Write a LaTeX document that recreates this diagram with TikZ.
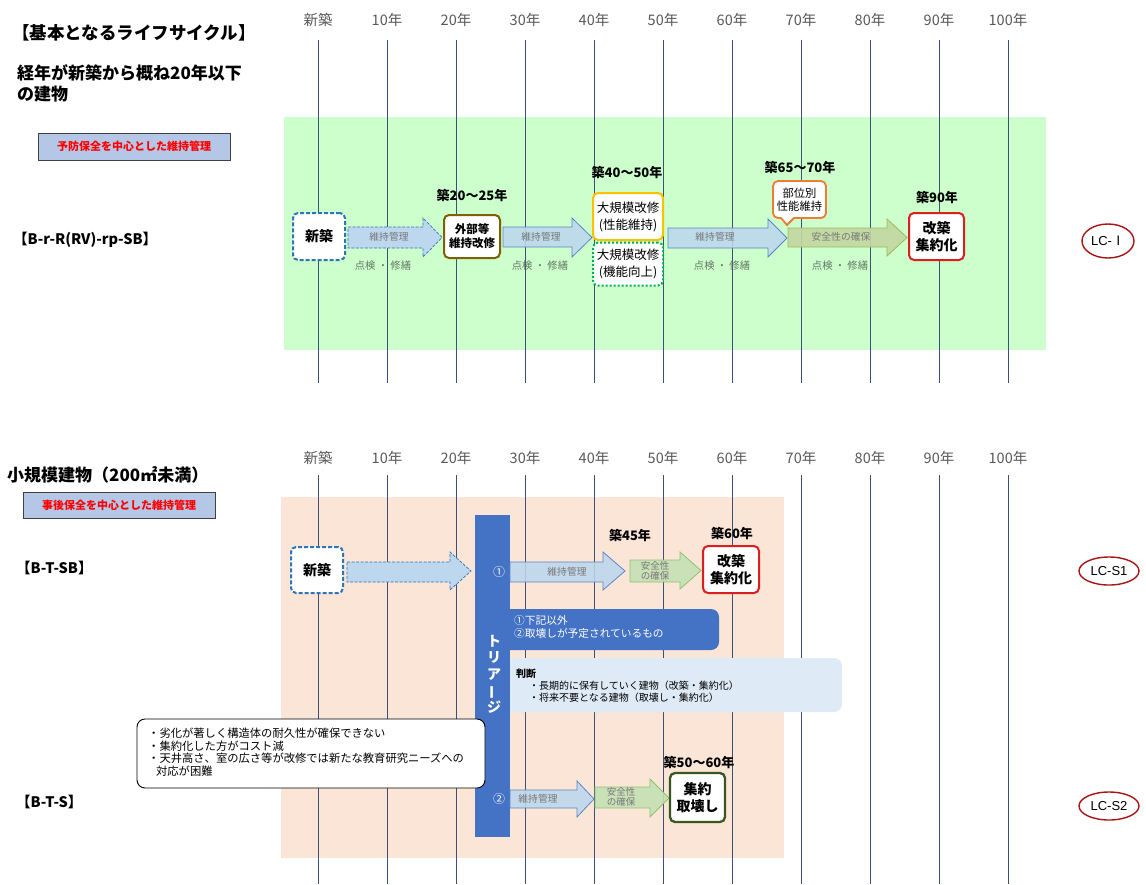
\documentclass[tikz,border=0pt]{standalone}
\usepackage{fontspec}
\usepackage{graphicx}
\setmainfont{Noto Sans CJK JP}
\newfontfamily\jpf{Noto Sans CJK JP}
\newfontfamily\arialf{Liberation Sans}
\usetikzlibrary{shapes.geometric}
\definecolor{vline}{RGB}{60,80,120}
\definecolor{bggreen}{RGB}{204,255,204}
\definecolor{bgpeach}{RGB}{251,229,214}
\definecolor{boxblue}{RGB}{180,199,231}
\definecolor{tri}{RGB}{68,114,196}
\definecolor{arrowfill}{RGB}{189,215,238}
\definecolor{arrowline}{RGB}{91,135,200}
\definecolor{olivefill}{RGB}{196,214,160}
\definecolor{oliveline}{RGB}{155,187,89}
\definecolor{gfill}{RGB}{197,224,180}
\definecolor{gline}{RGB}{140,195,110}
\definecolor{lightbox}{RGB}{222,235,247}
\definecolor{newblue}{RGB}{46,117,182}
\definecolor{brownb}{RGB}{127,96,0}
\definecolor{goldb}{RGB}{255,192,0}
\definecolor{dotgreen}{RGB}{0,176,80}
\definecolor{orng}{RGB}{237,125,49}
\definecolor{redb}{RGB}{220,30,30}
\definecolor{dgreen}{RGB}{56,87,35}
\definecolor{lcred}{RGB}{170,20,20}
\definecolor{yeargray}{RGB}{89,89,89}
\definecolor{tkgray}{RGB}{100,120,100}
\definecolor{agray}{RGB}{120,120,120}
\newcommand{\barrow}[8]{\draw[#1] (#2,#5) -- (#3,#5) -- (#3,#7) -- (#4,{(#7+#8)/2}) -- (#3,#8) -- (#3,#6) -- (#2,#6) -- cycle;}
\tikzset{
  yearlbl/.style={text=yeargray, font=\fontsize{14.5}{16}\selectfont, inner sep=0pt},
  vl/.style={draw=vline, line width=0.9pt},
  dasharrow/.style={draw=newblue, line width=0.7pt, dash pattern=on 3pt off 1.5pt, fill=arrowfill},
  bluearrow/.style={draw=arrowline, line width=0.8pt, fill=arrowfill, fill opacity=0.88},
  olivearrow/.style={draw=oliveline, line width=0.8pt, fill=olivefill, fill opacity=0.9},
  greenarrow/.style={draw=gline, line width=0.8pt, fill=gfill, fill opacity=0.9},
  arrtxt/.style={text=agray, font=\fontsize{9.8}{11}\selectfont, inner sep=0pt, align=center},
  tktxt/.style={text=tkgray, font=\fontsize{10.3}{12}\selectfont, inner sep=0pt},
  evbox/.style={rounded corners=5pt, fill=white, line width=2pt, align=center, inner sep=0pt},
  agelbl/.style={font=\fontsize{13}{15}\selectfont\bfseries, inner sep=0pt},
  lcell/.style={ellipse, draw=lcred, line width=1.4pt, inner sep=0pt, font=\arialf\fontsize{13}{15}\selectfont},
  policy/.style={draw=black!75, line width=0.9pt, fill=boxblue, text=red, font=\fontsize{11}{13}\selectfont\bfseries, inner sep=0pt},
  plan/.style={font=\fontsize{14.5}{16}\selectfont\bfseries, inner sep=0pt, anchor=west},
  head/.style={font=\fontsize{17}{21.5}\selectfont\bfseries, inner sep=0pt, align=left}
}
\begin{document}
\begin{tikzpicture}[x=1pt,y=-1pt]
\useasboundingbox (0,0) rectangle (1146,884);
\fill[white] (0,0) rectangle (1146,884);
% backgrounds
\fill[bggreen] (284,117) rectangle (1046,350);
\fill[bgpeach] (281,497) rectangle (784,858);
% vertical lines and year labels
\foreach \i/\t in {0/新築,1/10年,2/20年,3/30年,4/40年,5/50年,6/60年,7/70年,8/80年,9/90年,10/100年}{
  \draw[vl] ({318+69*\i},40) -- ({318+69*\i},383);
  \draw[vl] ({318+69*\i},475) -- ({318+69*\i},884);
  \node[yearlbl] (ty\i) at ({318+69*\i},20) {\t};
  \node[yearlbl] (by\i) at ({318+69*\i},458) {\t};
}
% ---------- top section ----------
\node[head, anchor=west, font=\fontsize{17.5}{21}\selectfont\bfseries] (title) at (12,33) {【基本となるライフサイクル】};
\node[head, anchor=north west] (sub1) at (17,64) {経年が新築から概ね20年以下\\の建物};
\node[policy, minimum width=192pt, minimum height=27pt] (pol1) at (134,146.5) {予防保全を中心とした維持管理};
\node[plan] (plan1) at (13,240) {【B-r-R(RV)-rp-SB】};

\barrow{dasharrow}{348}{423}{442}{227}{248}{218}{257}
\barrow{bluearrow}{503}{572}{592}{227}{247}{218}{257}
\barrow{bluearrow}{668}{768}{787}{228}{248}{219}{257}
\barrow{olivearrow}{788}{887}{907}{228}{247}{219}{256}
\node[arrtxt] (a1t) at (389,237) {維持管理};
\node[arrtxt] (a2t) at (541,237) {維持管理};
\node[arrtxt] (a3t) at (715,237) {維持管理};
\node[arrtxt] (a4t) at (841,237) {安全性の確保};
\node[tktxt] (tk1) at (383,266) {点検 ・ 修繕};
\node[tktxt] (tk2) at (540,266) {点検 ・ 修繕};
\node[tktxt] (tk3) at (722,266) {点検 ・ 修繕};
\node[tktxt] (tk4) at (840,266) {点検 ・ 修繕};

\node[evbox, draw=newblue, dash pattern=on 4pt off 2pt, minimum width=52pt, minimum height=47pt, font=\fontsize{14}{16}\selectfont\bfseries] (new1) at (319,236.5) {新築};
\node[evbox, draw=brownb, minimum width=56pt, minimum height=43pt, font=\fontsize{11.5}{14}\selectfont\bfseries] (ext) at (472,236.5) {外部等\\維持改修};
\node[evbox, draw=goldb, minimum width=70pt, minimum height=47pt, font=\fontsize{12.5}{17}\selectfont] (big1) at (628,216.5) {大規模改修\\(性能維持)};
\node[evbox, draw=dotgreen, dash pattern=on 2pt off 2pt, minimum width=70pt, minimum height=43pt, font=\fontsize{12.5}{17}\selectfont] (big2) at (628,264) {大規模改修\\(機能向上)};
\draw[orng, line width=1.8pt, fill=white] (781,218) -- (787,225) -- (794,218) [rounded corners=5pt] -- (826,218) -- (826,181) -- (773,181) -- (773,218) -- (781,218);
\node[font=\fontsize{11.3}{13.5}\selectfont, align=center, inner sep=0pt] (part) at (799.5,199.5) {部位別\\性能維持};
\node[evbox, draw=redb, minimum width=55pt, minimum height=47pt, font=\fontsize{14}{17}\selectfont\bfseries] (rb1) at (936.5,236.5) {改築\\集約化};
\node[agelbl] (ag1) at (472,195) {築20～25年};
\node[agelbl] (ag2) at (627,172) {築40～50年};
\node[agelbl] (ag3) at (800,167) {築65～70年};
\node[agelbl] (ag4) at (937,197) {築90年};
\node[lcell, minimum width=52pt, minimum height=34pt] (lc1) at (1108,241) {LC-{\jpf Ⅰ}};

% ---------- bottom section ----------
\node[head, anchor=west] (sub2) at (7,475) {小規模建物（200㎡未満）};
\node[policy, minimum width=192pt, minimum height=26pt] (pol2) at (119,505) {事後保全を中心とした維持管理};
\node[plan] (plan2) at (16,568) {【B-T-SB】};
\node[plan] (plan3) at (16,802) {【B-T-S】};

\fill[tri] (495,609) [rounded corners=8pt] -- (719,609) -- (719,650) -- (495,650) -- cycle;
\fill[lightbox] (495,658) [rounded corners=8pt] -- (842,658) -- (842,712) -- (495,712) -- cycle;
\node[anchor=north west, align=left, text=white, inner sep=0pt, font=\fontsize{10.7}{13.5}\selectfont] (cond) at (514,615) {①下記以外\\②取壊しが予定されているもの};
\node[anchor=north west, align=left, inner sep=0pt, font=\fontsize{10}{12}\selectfont] (judge) at (516,669) {\textbf{判断}\\\hspace{1.3em}・長期的に保有していく建物（改築・集約化）\\\hspace{1.3em}・将来不要となる建物（取壊し・集約化）};

\fill[tri] (475,515) rectangle (510,837);
\node[text=white, align=center, inner sep=0pt, font=\fontsize{14}{16.5}\selectfont\bfseries] (triage) at (494,674) {ト\\リ\\ア\\\rotatebox[origin=c]{90}{ー}\\ジ};
\node[text=white, inner sep=0pt, font=\fontsize{12}{14}\selectfont] (c1) at (499,572) {①};
\node[text=white, inner sep=0pt, font=\fontsize{12}{14}\selectfont] (c2) at (499,799) {②};

\draw[black, line width=0.9pt, fill=white, rounded corners=8pt] (137,719) rectangle (485,788);
\node[anchor=north west, align=left, inner sep=0pt, font=\fontsize{11.3}{12.8}\selectfont] (note) at (148,727.5) {・劣化が著しく構造体の耐久性が確保できない\\・集約化した方がコスト減\\・天井高さ、室の広さ等が改修では新たな教育研究ニーズへの\\\hspace{0.7em}対応が困難};

\barrow{dasharrow}{347}{450}{471}{562}{582}{552}{590}
\barrow{bluearrow}{510}{603}{625}{562}{582}{552}{590}
\barrow{greenarrow}{630}{680}{701}{560}{582}{552}{589}
\barrow{bluearrow}{510}{577}{594}{790}{808}{781}{817}
\barrow{greenarrow}{595}{650}{669}{787}{808}{779}{817}
\node[arrtxt] (b1t) at (567,572) {維持管理};
\node[arrtxt, font=\fontsize{9.5}{10.5}\selectfont] (b2t) at (655,571) {安全性\\の確保};
\node[arrtxt] (b3t) at (538,799) {維持管理};
\node[arrtxt, font=\fontsize{9.5}{10.5}\selectfont] (b4t) at (621,797) {安全性\\の確保};

\node[evbox, draw=newblue, dash pattern=on 4pt off 2pt, minimum width=52pt, minimum height=46pt, font=\fontsize{14}{16}\selectfont\bfseries] (new2) at (317,570) {新築};
\node[evbox, draw=redb, minimum width=56pt, minimum height=47pt, font=\fontsize{14}{17}\selectfont\bfseries] (rb2) at (731,569.5) {改築\\集約化};
\node[evbox, draw=dgreen, line width=2.3pt, minimum width=55pt, minimum height=49pt, font=\fontsize{14}{17}\selectfont\bfseries] (dem) at (697.5,797.5) {集約\\取壊し};
\node[agelbl] (ag5) at (630,535) {築45年};
\node[agelbl] (ag6) at (732,533) {築60年};
\node[agelbl] (ag7) at (699,762) {築50～60年};
\node[lcell, minimum width=60pt, minimum height=28pt] (lc2) at (1109,571) {LC-S1};
\node[lcell, minimum width=60pt, minimum height=28pt] (lc3) at (1109,806) {LC-S2};
\end{tikzpicture}
\end{document}
